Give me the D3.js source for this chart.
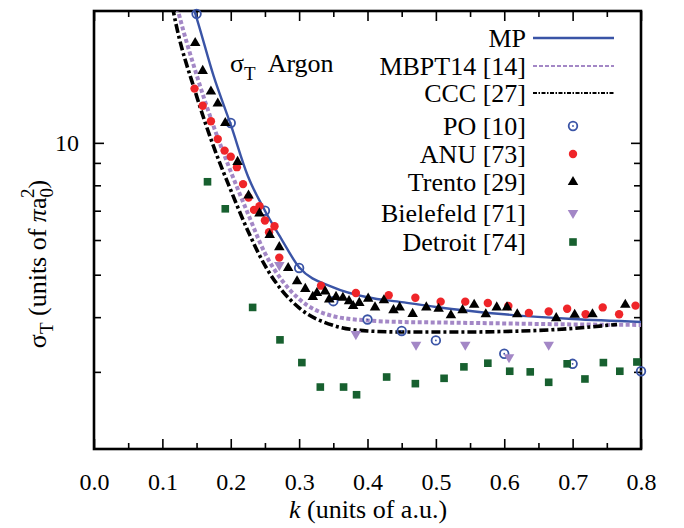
<!DOCTYPE html>
<html>
<head>
<meta charset="utf-8">
<script src="https://cdn.jsdelivr.net/npm/d3@7"></script>
<style>
  body { margin: 0; background: #fff; }
  svg text { font-family: "Liberation Serif", "Times New Roman", serif; fill: #000; }
</style>
</head>
<body>
<svg id="chart" width="684" height="528"></svg>
<script>
// --- data (k in a.u., sigma in units of pi a0^2) ---
const mpK = [0.14, 0.15, 0.175, 0.2, 0.225, 0.25, 0.275, 0.3, 0.35, 0.4, 0.45, 0.5, 0.6, 0.7, 0.8];
const mpS = [21.6, 19.3, 14.2, 11.0, 8.4, 7.0, 6.0, 5.2, 4.68, 4.44, 4.33, 4.22, 4.06, 3.96, 3.90];

const mbptK = [0.115, 0.123, 0.15, 0.175, 0.2, 0.225, 0.25, 0.275, 0.3, 0.35, 0.4, 0.45, 0.5, 0.6, 0.7, 0.8];
const mbptS = [22.5, 20, 14.3, 10.9, 8.6, 6.9, 5.6, 4.85, 4.4, 4.02, 3.93, 3.90, 3.89, 3.87, 3.85, 3.84];

const cccK = [0.11, 0.116, 0.15, 0.175, 0.2, 0.225, 0.25, 0.275, 0.3, 0.35, 0.4, 0.45, 0.5, 0.55, 0.6, 0.65, 0.7, 0.765];
const cccS = [22.5, 20, 12.8, 9.8, 7.8, 6.3, 5.25, 4.6, 4.2, 3.83, 3.72, 3.70, 3.70, 3.70, 3.71, 3.73, 3.77, 3.85];

const poK = [0.15, 0.2, 0.25, 0.3, 0.35, 0.4, 0.45, 0.5, 0.6, 0.7, 0.8];
const poS = [19.7, 11.1, 7.0, 5.18, 4.35, 3.95, 3.72, 3.54, 3.30, 3.13, 3.01];

const anuK = [0.147, 0.159, 0.171, 0.181, 0.191, 0.200, 0.209, 0.218, 0.226, 0.234, 0.242, 0.250, 0.256, 0.264,
  0.271, 0.332, 0.383, 0.431, 0.470, 0.507, 0.543, 0.576, 0.606, 0.636, 0.665, 0.692, 0.719, 0.744, 0.768, 0.792];
const anuS = [13.3, 12.15, 11.2, 10.2, 9.6, 9.3, 8.8, 8.05, 7.5, 7.03, 7.17, 6.65, 6.25, 6.45,
  5.47, 4.72, 4.54, 4.49, 4.43, 4.34, 4.34, 4.31, 4.24, 4.09, 4.12, 4.18, 4.06, 4.21, 4.06, 4.25];

const trentoK = [0.148, 0.159, 0.171, 0.181, 0.192, 0.210, 0.226, 0.242, 0.257, 0.271, 0.284, 0.297, 0.309,
  0.320, 0.326, 0.338, 0.344, 0.354, 0.364, 0.373, 0.379, 0.388, 0.401, 0.411, 0.424, 0.438, 0.447,
  0.466, 0.486, 0.504, 0.522, 0.539, 0.556, 0.573, 0.589, 0.604, 0.619, 0.676, 0.703, 0.729, 0.777];
const trentoS = [16.9, 14.6, 13.1, 12.3, 11.1, 9.05, 7.58, 6.9, 6.16, 5.78, 5.18, 4.83, 4.64,
  4.45, 4.54, 4.58, 4.39, 4.45, 4.43, 4.35, 4.24, 4.31, 4.41, 4.21, 4.37, 4.15, 4.21,
  4.07, 4.21, 4.18, 4.04, 4.15, 4.27, 4.06, 4.21, 4.21, 4.06, 3.98, 4.05, 4.06, 4.27];

const bielK = [0.271, 0.383, 0.471, 0.543, 0.607, 0.665];
const bielS = [5.26, 3.66, 3.46, 3.46, 3.24, 3.46];

const detK = [0.166, 0.192, 0.232, 0.272, 0.304, 0.331, 0.365, 0.384, 0.428, 0.470, 0.512, 0.541,
  0.576, 0.608, 0.638, 0.665, 0.692, 0.718, 0.745, 0.769, 0.794];
const detS = [8.15, 7.07, 4.21, 3.55, 3.15, 2.77, 2.77, 2.66, 2.92, 2.82, 2.90, 3.08,
  3.14, 3.01, 3.00, 2.84, 3.13, 2.89, 3.15, 3.01, 3.16];

const xMajor = [0, 0.1, 0.2, 0.3, 0.4, 0.5, 0.6, 0.7, 0.8];
const xMinor = [0.05, 0.15, 0.25, 0.35, 0.45, 0.55, 0.65, 0.75];
const yMajor = [10];
const yMinor = [3, 4, 5, 6, 7, 8, 9];

// --- layout ---
const plot = { left: 94, right: 641, top: 11, bottom: 449 };
const svg = d3.select("#chart");

const x = d3.scaleLinear().domain([0, 0.8]).range([plot.left, plot.right]);
const y = d3.scaleLog().domain([2, 20]).range([plot.bottom, plot.top]);

const blue = "#3a54a6", purple = "#a387c6", red = "#ef2529", green = "#17602f";

svg.append("defs").append("clipPath").attr("id", "clip")
  .append("rect")
  .attr("x", plot.left).attr("y", plot.top)
  .attr("width", plot.right - plot.left).attr("height", plot.bottom - plot.top);

// axes (ticks pointing inward, mirrored on all sides)
function styleAxis(g) {
  g.select(".domain").remove();
  g.selectAll(".tick line").attr("stroke", "#000").attr("stroke-width", 1.6);
  g.selectAll("text").style("font-size", "24px").attr("fill", "#000");
}

svg.append("g").attr("transform", `translate(0,${plot.bottom})`)
  .call(d3.axisBottom(x).tickValues(xMajor).tickSize(-10).tickPadding(24).tickFormat(d3.format(".1f")))
  .call(styleAxis);
svg.append("g").attr("transform", `translate(0,${plot.bottom})`)
  .call(d3.axisBottom(x).tickValues(xMinor).tickSize(-6).tickFormat(""))
  .call(styleAxis);
svg.append("g").attr("transform", `translate(0,${plot.top})`)
  .call(d3.axisTop(x).tickValues(xMajor).tickSize(-10).tickFormat(""))
  .call(styleAxis);
svg.append("g").attr("transform", `translate(0,${plot.top})`)
  .call(d3.axisTop(x).tickValues(xMinor).tickSize(-6).tickFormat(""))
  .call(styleAxis);

svg.append("g").attr("transform", `translate(${plot.left},0)`)
  .call(d3.axisLeft(y).tickValues(yMajor).tickSize(-10).tickPadding(15).tickFormat(d3.format("d")))
  .call(styleAxis);
svg.append("g").attr("transform", `translate(${plot.left},0)`)
  .call(d3.axisLeft(y).tickValues(yMinor).tickSize(-7).tickFormat(""))
  .call(styleAxis);
svg.append("g").attr("transform", `translate(${plot.right},0)`)
  .call(d3.axisRight(y).tickValues(yMajor).tickSize(-10).tickFormat(""))
  .call(styleAxis);
svg.append("g").attr("transform", `translate(${plot.right},0)`)
  .call(d3.axisRight(y).tickValues(yMinor).tickSize(-7).tickFormat(""))
  .call(styleAxis);

svg.append("rect")
  .attr("x", plot.left).attr("y", plot.top)
  .attr("width", plot.right - plot.left).attr("height", plot.bottom - plot.top)
  .attr("fill", "none").attr("stroke", "#000").attr("stroke-width", 2.6);

// --- curves ---
const line = d3.line().x(d => x(d[0])).y(d => y(d[1])).curve(d3.curveMonotoneX);
const zip = (ks, ss) => ks.map((k, i) => [k, ss[i]]);

const curves = svg.append("g").attr("clip-path", "url(#clip)");
curves.append("path").datum(zip(mpK, mpS)).attr("d", line)
  .attr("fill", "none").attr("stroke", blue).attr("stroke-width", 2.4);
curves.append("path").datum(zip(mbptK, mbptS)).attr("d", line)
  .attr("fill", "none").attr("stroke", purple).attr("stroke-width", 4).attr("stroke-dasharray", "4,2.5");
curves.append("path").datum(zip(cccK, cccS)).attr("d", line)
  .attr("fill", "none").attr("stroke", "#000").attr("stroke-width", 3.6).attr("stroke-dasharray", "9,3,3,3");

// --- markers ---
const tri = d3.symbol().type(d3.symbolTriangle).size(48)();
const sq = d3.symbol().type(d3.symbolSquare).size(58)();

function poMark(g) {
  g.append("circle").attr("r", 4.3).attr("fill", "none").attr("stroke", blue).attr("stroke-width", 1.8);
  g.append("circle").attr("r", 0.9).attr("fill", blue);
}
function anuMark(g) { g.append("circle").attr("r", 4.2).attr("fill", red); }
function trentoMark(g) { g.append("path").attr("d", tri).attr("fill", "#000"); }
function bielMark(g) { g.append("path").attr("d", tri).attr("transform", "rotate(180)").attr("fill", purple); }
function detMark(g) { g.append("path").attr("d", sq).attr("fill", green); }

const series = [
  { k: poK, s: poS, mark: poMark },
  { k: anuK, s: anuS, mark: anuMark },
  { k: trentoK, s: trentoS, mark: trentoMark },
  { k: bielK, s: bielS, mark: bielMark },
  { k: detK, s: detS, mark: detMark }
];
series.forEach(ser => {
  svg.append("g").selectAll("g")
    .data(zip(ser.k, ser.s))
    .join("g")
    .attr("transform", d => `translate(${x(d[0])},${y(d[1])})`)
    .each(function () { ser.mark(d3.select(this)); });
});

// --- legend ---
const legendX = 526, lineX0 = 533, lineX1 = 614, symX = 573;
const legendRows = [
  { label: "MP", y: 38, type: "line", stroke: blue, width: 2.4, dash: null },
  { label: "MBPT14 [14]", y: 66, type: "line", stroke: purple, width: 2, dash: "4,2" },
  { label: "CCC [27]", y: 93, type: "line", stroke: "#000", width: 1.8, dash: "4,1.5,1.5,1.5" },
  { label: "PO [10]", y: 126, type: "mark", mark: poMark },
  { label: "ANU [73]", y: 154, type: "mark", mark: anuMark },
  { label: "Trento [29]", y: 182, type: "mark", mark: trentoMark },
  { label: "Bielefeld [71]", y: 213, type: "mark", mark: bielMark },
  { label: "Detroit [74]", y: 242, type: "mark", mark: detMark }
];
const leg = svg.append("g");
legendRows.forEach(r => {
  leg.append("text").attr("x", legendX).attr("y", r.y + 9)
    .attr("text-anchor", "end").style("font-size", "26px").text(r.label);
  if (r.type === "line") {
    leg.append("line").attr("x1", lineX0).attr("x2", lineX1).attr("y1", r.y).attr("y2", r.y)
      .attr("stroke", r.stroke).attr("stroke-width", r.width)
      .attr("stroke-dasharray", r.dash);
  } else {
    const g = leg.append("g").attr("transform", `translate(${symX},${r.y})`);
    r.mark(g);
  }
});

// --- titles ---
const title = svg.append("text").attr("x", 230).attr("y", 72).style("font-size", "26px");
title.append("tspan").text("σ");
title.append("tspan").attr("dy", 8).style("font-size", "19px").text("T");
title.append("tspan").attr("dy", -8).attr("dx", 12).text("Argon");

const xt = svg.append("text").attr("x", 368).attr("y", 518)
  .attr("text-anchor", "middle").style("font-size", "26px");
xt.append("tspan").style("font-style", "italic").text("k");
xt.append("tspan").text(" (units of a.u.)");

const yt = svg.append("text")
  .attr("transform", "translate(46,264) rotate(-90)")
  .attr("text-anchor", "middle").style("font-size", "26px");
yt.append("tspan").text("σ");
yt.append("tspan").attr("dy", 7).style("font-size", "19px").text("T");
yt.append("tspan").attr("dy", -7).text("  (units of ");
yt.append("tspan").style("font-style", "italic").text("π");
yt.append("tspan").text("a");
yt.append("tspan").attr("dy", 7).style("font-size", "19px").text("0");
yt.append("tspan").attr("dx", -10).attr("dy", -19).style("font-size", "19px").text("2");
yt.append("tspan").attr("dy", 12).text(")");
</script>
</body>
</html>
